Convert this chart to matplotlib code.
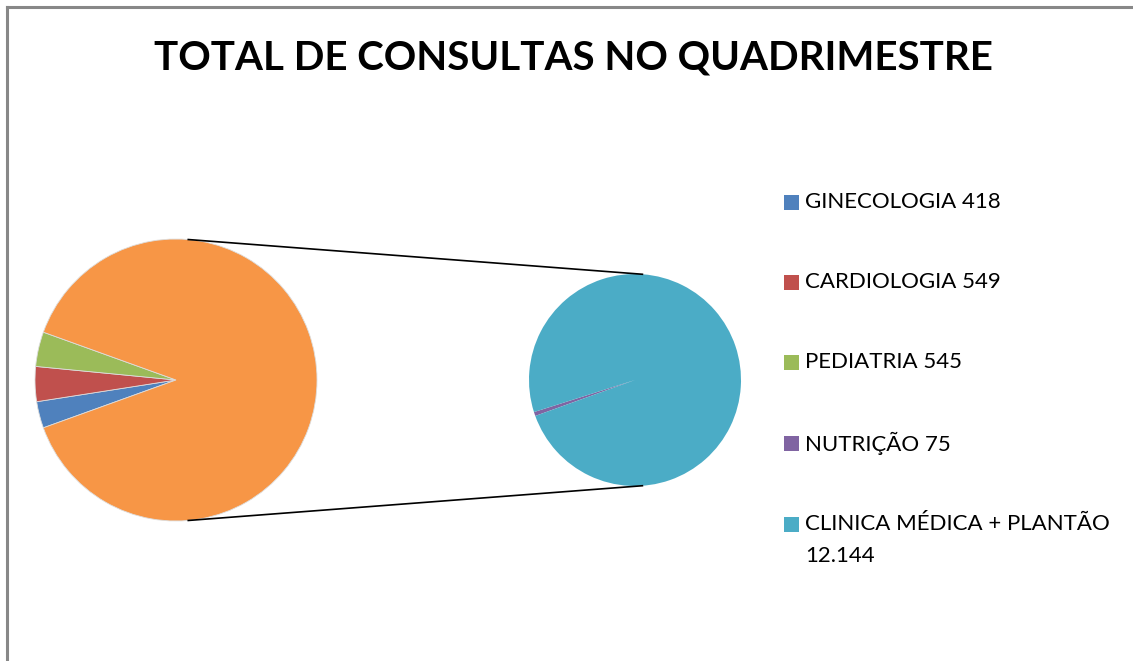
import numpy as np
import matplotlib
matplotlib.use("Agg")
import matplotlib.pyplot as plt
from matplotlib.patches import Rectangle

# Data
main_labels = ["GINECOLOGIA 418", "CARDIOLOGIA 549", "PEDIATRIA 545"]
main_values = [418, 549, 545]
sub_labels = ["NUTRIÇÃO 75", "CLINICA MÉDICA + PLANTÃO\n12.144"]
sub_values = [75, 12144]
title = "TOTAL DE CONSULTAS NO QUADRIMESTRE"

main_colors = ["#4F81BD", "#C0504D", "#9BBB59"]
other_color = "#F79646"
sub_colors = ["#8064A2", "#4BACC6"]

W, H = 1133, 661
fig = plt.figure(figsize=(W / 100, H / 100), dpi=100)
ax = fig.add_axes([0, 0, 1, 1])

font = "Lato"

# Left pie
left_c = (176, H - 380)
left_r = 141
vals_left = main_values + [sum(sub_values)]
frac_first = sum(main_values) / sum(vals_left)
start = 180 + frac_first * 360 / 2
ax.pie(vals_left, colors=main_colors + [other_color], center=left_c, radius=left_r,
       startangle=start, counterclock=False, frame=True,
       wedgeprops=dict(linewidth=0.6, edgecolor="#DDDDDD"))

# Right pie
right_c = (635, H - 380)
right_r = 106
ax.pie(sub_values, colors=sub_colors, center=right_c, radius=right_r,
       startangle=start, counterclock=False, frame=True,
       wedgeprops=dict(linewidth=0))

ax.set_xlim(0, W)
ax.set_ylim(0, H)
ax.set_aspect("equal")
ax.axis("off")

# Connector lines
for s in (1, -1):
    x0 = left_c[0] + left_r * np.cos(np.deg2rad(85))
    y0 = left_c[1] + s * left_r * np.sin(np.deg2rad(85))
    x1 = right_c[0] + right_r * np.cos(np.deg2rad(86))
    y1 = right_c[1] + s * right_r * np.sin(np.deg2rad(86))
    ax.plot([x0, x1], [y0, y1], color="black", lw=1.2)

# Title
ax.text(573, H - 58, title, ha="center", va="center", fontsize=29,
        fontweight="bold", family=font, color="black")

# Legend
leg_labels = main_labels + sub_labels
leg_colors = main_colors + sub_colors
ys = [202, 282, 362, 443, 524]
for lab, col, y in zip(leg_labels, leg_colors, ys):
    ax.add_patch(Rectangle((784, H - y - 7.5), 15, 15, facecolor=col, edgecolor="none"))
    for i, line in enumerate(lab.split("\n")):
        ax.text(805, H - y - 32 * i, line, ha="left", va="center",
                fontsize=16, family=font, color="black")

# Border (top and left visible)
ax.plot([7, 7], [0, H - 7], color="#888888", lw=2.2, solid_capstyle="projecting")
ax.plot([7, W], [H - 7, H - 7], color="#888888", lw=2.2)

fig.savefig("out.png", dpi=100)
